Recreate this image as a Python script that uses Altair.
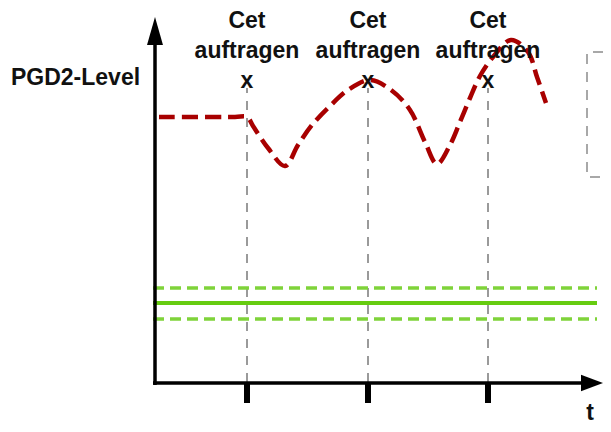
import altair as alt
import pandas as pd

# Horizontal unit: offset along the t axis from the origin; vertical unit: level above the t axis.
red_t = [4, 80, 92, 98, 113, 130, 143, 157, 175, 193, 215, 236, 255, 270, 282,
         295, 305, 315, 325, 338, 356, 373, 382, 391]
red_level = [265, 265, 265, 256, 234, 216, 237, 257, 276, 292, 302, 292, 272, 240, 218,
             237, 260, 284, 306, 325, 342, 330, 305, 279]

marker_t = [92, 213, 333]
marker_lines = ["Cet", "auftragen", "x"]
marker_line_levels = [354, 324, 294]
guide_top = 294

green_levels = [94, 79, 63]
green_kind = ["dashed", "solid", "dashed"]
green_start, green_end = -2, 442

box_t = [448, 432, 432, 448]
box_level = [330, 330, 205, 205]

y_axis_top = 337
x_axis_end = 426
x_axis_level = -1
tick_bottom = -21

ylabel = "PGD2-Level"
xlabel = "t"

xs = alt.Scale(domain=[-147, 448], nice=False, zero=False)
ys = alt.Scale(domain=[-42, 374], nice=False, zero=False)


def X(f):
    return alt.X(f, type="quantitative", scale=xs, axis=None)


def Y(f):
    return alt.Y(f, type="quantitative", scale=ys, axis=None)


FONT = "Liberation Sans"

# grey vertical guides
guides = alt.Chart(pd.DataFrame({"x": marker_t, "y": [0] * 3, "y2": [guide_top] * 3})).mark_rule(
    color="#9a9a9a", strokeWidth=2, strokeDash=[9, 8]
).encode(x=X("x"), y=Y("y"), y2=alt.Y2("y2"))

# grey dashed box at right
box = alt.Chart(pd.DataFrame({"x": box_t, "y": box_level, "o": [0, 1, 2, 3]})).mark_line(
    color="#a8a8a8", strokeWidth=2, strokeDash=[10, 8]
).encode(x=X("x"), y=Y("y"), order="o:Q")

gdf = pd.DataFrame({"x": [green_start] * 3, "x2": [green_end] * 3, "y": green_levels, "k": green_kind})
green_solid = alt.Chart(gdf[gdf.k == "solid"]).mark_rule(color="#66cc11", strokeWidth=4).encode(
    x=X("x"), x2=alt.X2("x2"), y=Y("y"))
green_dash = alt.Chart(gdf[gdf.k == "dashed"]).mark_rule(
    color="#7fd33a", strokeWidth=3.5, strokeDash=[11, 6]).encode(
    x=X("x"), x2=alt.X2("x2"), y=Y("y"))

red = alt.Chart(pd.DataFrame({"x": red_t, "y": red_level})).mark_line(
    color="#a80000", strokeWidth=4.5, strokeDash=[16, 7], interpolate="catmull-rom", strokeCap="butt"
).encode(x=X("x"), y=Y("y"))

# axes
yaxis = alt.Chart(pd.DataFrame({"x": [0], "y": [x_axis_level - 2], "y2": [y_axis_top]})).mark_rule(
    color="black", strokeWidth=3.5).encode(x=X("x"), y=Y("y"), y2=alt.Y2("y2"))
xaxis = alt.Chart(pd.DataFrame({"x": [-2], "x2": [x_axis_end], "y": [x_axis_level]})).mark_rule(
    color="black", strokeWidth=3.5).encode(x=X("x"), x2=alt.X2("x2"), y=Y("y"))

yarrow = alt.Chart(pd.DataFrame({"x": [0], "y": [351]})).mark_point(
    shape="M0,-1L0.57,1L-0.57,1Z", size=784, filled=True, color="black", opacity=1
).encode(x=X("x"), y=Y("y"))
xarrow = alt.Chart(pd.DataFrame({"x": [437], "y": [x_axis_level]})).mark_point(
    shape="M1,0L-1,0.75L-1,-0.75Z", size=484, filled=True, color="black", opacity=1
).encode(x=X("x"), y=Y("y"))

ticks = alt.Chart(pd.DataFrame({"x": marker_t, "y": [x_axis_level] * 3, "y2": [tick_bottom] * 3})).mark_rule(
    color="black", strokeWidth=6).encode(x=X("x"), y=Y("y"), y2=alt.Y2("y2"))

rows = []
for t in marker_t:
    for line, lv in zip(marker_lines, marker_line_levels):
        rows.append({"x": t, "y": lv, "text": line})
labels = alt.Chart(pd.DataFrame(rows)).mark_text(
    font=FONT, fontSize=23, fontWeight="bold", color="#111", align="center", baseline="alphabetic"
).encode(x=X("x"), y=Y("y"), text="text:N")

ylab = alt.Chart(pd.DataFrame({"x": [-79.5], "y": [297], "text": [ylabel]})).mark_text(
    font=FONT, fontSize=23, fontWeight="bold", color="#111", align="center", baseline="alphabetic"
).encode(x=X("x"), y=Y("y"), text="text:N")
xlab = alt.Chart(pd.DataFrame({"x": [435], "y": [-38], "text": [xlabel]})).mark_text(
    font=FONT, fontSize=23, fontWeight="bold", color="#111", align="center", baseline="alphabetic"
).encode(x=X("x"), y=Y("y"), text="text:N")

chart = alt.layer(
    guides, box, green_dash, green_solid, red, yaxis, xaxis, yarrow, xarrow, ticks, labels, ylab, xlab
).properties(
    width=595, height=416, padding=0, autosize=alt.AutoSizeParams(type="none"), background="white"
).configure_view(stroke=None)

chart.save("out.html", embed_options={"renderer": "svg", "actions": False})
